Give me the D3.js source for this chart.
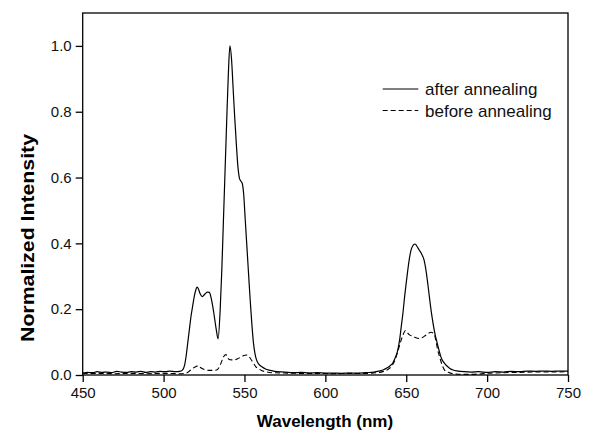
<!DOCTYPE html>
<html><head><meta charset="utf-8">
<script src="https://cdn.jsdelivr.net/npm/d3@7"></script>
<style>
html,body{margin:0;padding:0;background:#fff;}
svg{display:block;font-family:Arial,"Liberation Sans",sans-serif;}
</style></head>
<body><svg id="c" width="600" height="435"></svg>
<script>
const xTicks = [450,500,550,600,650,700,750];
const yTicks = [0.0,0.2,0.4,0.6,0.8,1.0];
const seriesNames = ["after annealing","before annealing"];

const wlAfter = [450,453,456,459,462,465,468,471,474,477,480,483,486,489,492,495,498,501,504,507,510,
511.5,513,514,515,516,517,518,519,520,520.7,521.5,522.5,523.8,525,526,527,528.3,529.5,531,532.5,533.7,
535,536,537,538,539,540,541,542,543,544,545,546,546.8,547.6,548.5,549.5,550.5,551.5,552.5,553.5,554.5,555.5,556.5,557.5,
559,561,563,566,570,575,580,585,590,595,600,605,610,615,620,625,630,633,636,638,640,641.5,643,644.5,646,647,648,649,650,
651,652,653,654,655,655.6,656.5,658,659.5,661,662,663,664,665,666,667,668,669,670,671,672,673.5,675,677,679,682,686,690,
695,700,705,710,715,720,725,730,735,740,745,750];
const intAfter = [0.006,0.008,0.007,0.010,0.008,0.009,0.007,0.011,0.009,0.008,0.010,0.009,0.011,0.008,0.010,0.009,0.011,0.010,0.012,0.010,0.011,
0.014,0.030,0.060,0.100,0.140,0.180,0.210,0.240,0.260,0.267,0.262,0.248,0.238,0.243,0.248,0.252,0.251,0.232,0.190,0.140,0.110,
0.200,0.320,0.470,0.620,0.770,0.910,1.000,0.960,0.870,0.780,0.700,0.630,0.600,0.590,0.584,0.550,0.470,0.390,0.310,0.230,0.160,0.100,0.065,0.045,
0.032,0.024,0.018,0.014,0.010,0.009,0.007,0.008,0.006,0.007,0.006,0.006,0.005,0.006,0.005,0.007,0.009,0.012,0.016,0.021,0.028,0.035,0.050,0.070,0.110,0.150,0.190,0.238,0.280,
0.320,0.355,0.380,0.392,0.397,0.398,0.392,0.380,0.368,0.350,0.325,0.290,0.250,0.210,0.175,0.145,0.120,0.100,0.080,0.062,0.048,0.037,0.028,0.020,0.015,0.012,0.010,0.009,
0.010,0.008,0.010,0.009,0.011,0.010,0.012,0.011,0.012,0.011,0.012,0.012];

const wlBefore = [450,460,470,480,490,500,510,514,516,518,520,521.4,523,525.5,528,530,532.7,534.5,535.8,537,538.5,539.5,540.5,542,544,546,548,549.5,551.2,552.5,554,555.5,557.4,559,560.5,563,567,575,585,595,605,615,625,632,636,639,641,643,645,646.5,648,649.6,650.5,652,654,656,658.2,660,661.3,663,665.4,666.5,667.5,668.5,669.5,670.6,672,673.7,676,679.8,685,690,695,700,710,720,730,740,750];
const intBefore = [0.004,0.005,0.004,0.005,0.004,0.005,0.004,0.006,0.012,0.020,0.026,0.028,0.022,0.016,0.014,0.014,0.015,0.025,0.040,0.055,0.062,0.055,0.047,0.046,0.046,0.050,0.055,0.059,0.061,0.057,0.048,0.036,0.023,0.018,0.014,0.010,0.007,0.006,0.005,0.005,0.004,0.005,0.005,0.007,0.011,0.018,0.027,0.045,0.075,0.100,0.122,0.135,0.130,0.122,0.118,0.113,0.111,0.114,0.118,0.124,0.130,0.128,0.122,0.100,0.075,0.056,0.033,0.015,0.008,0.003,0.002,0.002,0.003,0.005,0.007,0.008,0.009,0.009,0.010];

const L=82.7,R=568,T=13,B=375;
const svg=d3.select("#c");
const x=d3.scaleLinear().domain([450,750]).range([L,R]);
const y=d3.scaleLinear().domain([0,1.1]).range([B,T]);

// frame
svg.append("rect").attr("x",L).attr("y",T).attr("width",R-L).attr("height",B-T)
  .attr("fill","none").attr("stroke","#000").attr("stroke-width",1.3);

// x axis
const xMinor = d3.range(450,751,25);
const xa = svg.append("g").attr("transform",`translate(0,${B})`);
xa.call(d3.axisBottom(x).tickValues(xMinor).tickSize(4).tickFormat(""));
xa.call(d3.axisBottom(x).tickValues(xTicks).tickSize(7).tickPadding(5).tickFormat(d3.format("d")));
xa.selectAll("path.domain").remove();
xa.selectAll("line").attr("stroke","#000").attr("stroke-width",1.3);
xa.selectAll("text").attr("font-size",15).attr("fill","#111").attr("font-family","Arial, 'Liberation Sans', sans-serif");

// y axis
const yMinor = d3.range(0,1.101,0.1);
const ya = svg.append("g").attr("transform",`translate(${L},0)`);
ya.call(d3.axisLeft(y).tickValues(yMinor).tickSize(4).tickFormat(""));
ya.call(d3.axisLeft(y).tickValues(yTicks).tickSize(7).tickPadding(4).tickFormat(d3.format(".1f")));
ya.selectAll("path.domain").remove();
ya.selectAll("line").attr("stroke","#000").attr("stroke-width",1.3);
ya.selectAll("text").attr("font-size",15).attr("fill","#111").attr("font-family","Arial, 'Liberation Sans', sans-serif");

// titles
svg.append("text").attr("x",325).attr("y",427).attr("text-anchor","middle")
  .attr("font-size",17).attr("font-weight","bold").text("Wavelength (nm)");
svg.append("text").attr("transform",`translate(34,238) rotate(-90) scale(1.12,1)`).attr("text-anchor","middle")
  .attr("font-size",19).attr("font-weight","bold").text("Normalized Intensity");

// lines
const line=d3.line().x(d=>x(d[0])).y(d=>y(d[1])).curve(d3.curveMonotoneX);
const after=wlAfter.map((w,i)=>[w,intAfter[i]]);
const before=wlBefore.map((w,i)=>[w,intBefore[i]]);
svg.append("path").datum(before).attr("d",line).attr("fill","none").attr("stroke","#000")
  .attr("stroke-width",1.1).attr("stroke-dasharray","5,3");
svg.append("path").datum(after).attr("d",line).attr("fill","none").attr("stroke","#000")
  .attr("stroke-width",1.2);

// legend
const leg=svg.append("g");
const ly=[89,110.5];
seriesNames.forEach((n,i)=>{
  leg.append("line").attr("x1",382.7).attr("x2",418.3).attr("y1",ly[i]).attr("y2",ly[i])
    .attr("stroke","#000").attr("stroke-width",1.2).attr("stroke-dasharray",i?"5,3":null);
  leg.append("text").attr("x",425).attr("y",ly[i]+6).attr("font-size",17).attr("fill","#111").text(n);
});
</script></body></html>
